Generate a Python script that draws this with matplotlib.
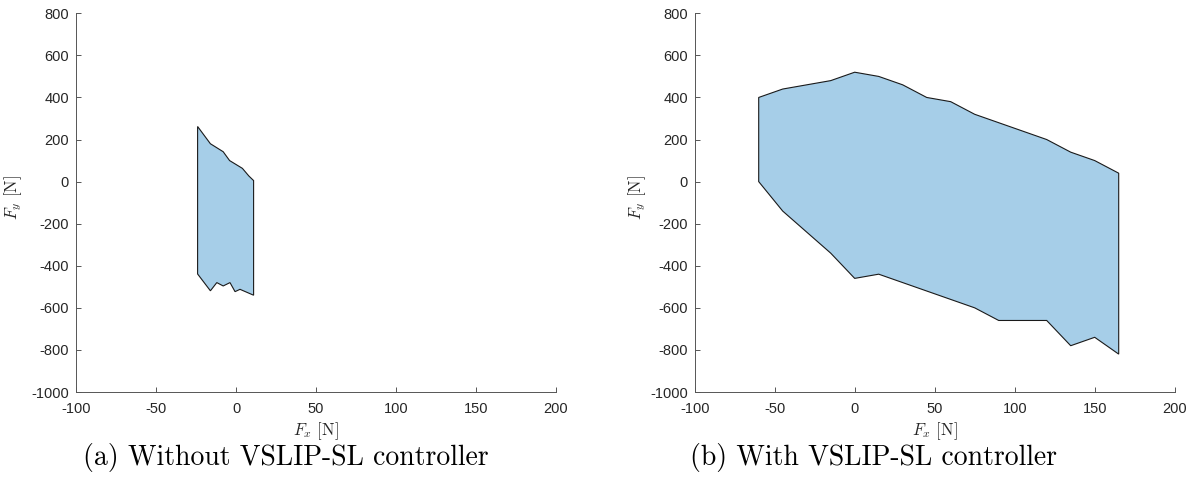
import matplotlib
matplotlib.use("Agg")
import matplotlib.pyplot as plt
from matplotlib.patches import Polygon

# Reachable force region boundaries (F_x, F_y) in newtons, listed around the outline
fx_without = [-24, -16, -8, -4, 4, 8, 11, 11, 2.5, -0.6, -3.75, -8, -12, -16, -24]
fy_without = [262, 180, 142, 100, 63, 27, 5, -540, -512, -523, -480, -496, -480, -519, -439]

fx_with = [-60, -45, -15, 0, 15, 30, 45, 60, 75, 90, 105, 120, 135, 150, 165,
           165, 150, 135, 120, 90, 75, 15, 0, -15, -45, -60]
fy_with = [400, 440, 480, 520, 500, 460, 400, 380, 320, 280, 240, 200, 140, 100, 40,
           -820, -740, -780, -660, -660, -600, -440, -460, -340, -140, 0]

x_ticks = [-100, -50, 0, 50, 100, 150, 200]
y_ticks = [-1000, -800, -600, -400, -200, 0, 200, 400, 600, 800]
captions = ["(a) Without VSLIP-SL controller", "(b) With VSLIP-SL controller"]

plt.rcParams["mathtext.fontset"] = "cm"
plt.rcParams["font.family"] = ["Liberation Sans", "DejaVu Sans"]

W, H = 1197, 484
fig = plt.figure(figsize=(W / 100, H / 100), dpi=100)

fill_color = "#A6CEE8"
edge_color = "#1a1a1a"
axis_color = "#555555"
text_color = "#262626"

# (axes left edge px, x data, y data, caption centre px, y-label right edge px)
panels = [
    (76, fx_without, fy_without, 286, 24),
    (694.7, fx_with, fy_with, 874, 648),
]
for (x0, fx, fy, cap_x, ylab_x), cap in zip(panels, captions):
    ax = fig.add_axes([x0 / W, 1 - 392 / H, 480 / W, 378.7 / H])
    poly = Polygon(list(zip(fx, fy)), closed=True, facecolor=fill_color,
                   edgecolor=edge_color, linewidth=0.8)
    ax.add_patch(poly)
    ax.set_xlim(-100, 200)
    ax.set_ylim(-1000, 800)
    ax.set_xticks(x_ticks)
    ax.set_yticks(y_ticks)
    ax.set_xticklabels([str(v) for v in x_ticks])
    ax.set_yticklabels([str(v) for v in y_ticks])
    for s in ("top", "right"):
        ax.spines[s].set_visible(False)
    for s in ("left", "bottom"):
        ax.spines[s].set_color(axis_color)
        ax.spines[s].set_linewidth(0.7)
    ax.tick_params(direction="in", length=3.5, width=0.7, color=axis_color,
                   labelsize=10.5, labelcolor=text_color)
    ax.tick_params(axis="x", pad=7)
    ax.tick_params(axis="y", pad=5)
    ax.set_xlabel(r"$F_x$ [N]", fontsize=12, family="cmr10", color=text_color)
    ax.set_ylabel(r"$F_y$ [N]", fontsize=12, family="cmr10", color=text_color)
    ax.xaxis.set_label_coords(0.5, -0.074)
    ax.yaxis.set_label_coords((ylab_x - x0) / 480, 0.512)
    fig.text(cap_x / W, 1 - 457 / H, cap, ha="center", va="center",
             fontsize=20, family="cmr10", color="black")

fig.savefig("out.png", dpi=100)
